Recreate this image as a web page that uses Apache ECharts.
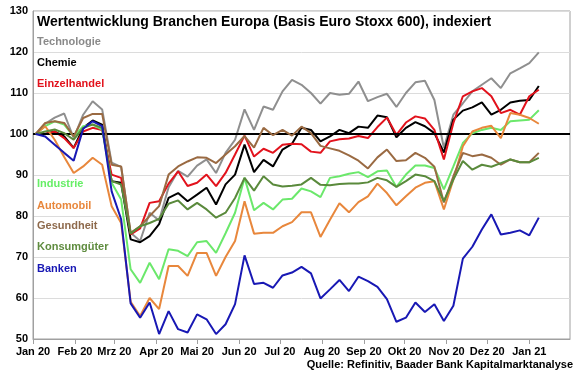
<!DOCTYPE html>
<html>
<head>
<meta charset="utf-8">
<script src="https://cdn.jsdelivr.net/npm/echarts@6/dist/echarts.min.js"></script>
<style>html,body{margin:0;padding:0;background:#fff}#c{width:580px;height:374px}</style>
</head>
<body>
<div id="c"></div>
<script>
// weekly dates (Fridays)
const dates = ['2020-01-03','2020-01-10','2020-01-17','2020-01-24','2020-01-31','2020-02-07','2020-02-14','2020-02-21','2020-02-28',
'2020-03-06','2020-03-13','2020-03-20','2020-03-27','2020-04-03','2020-04-10','2020-04-17','2020-04-24','2020-05-01','2020-05-08',
'2020-05-15','2020-05-22','2020-05-29','2020-06-05','2020-06-12','2020-06-19','2020-06-26','2020-07-03','2020-07-10','2020-07-17',
'2020-07-24','2020-07-31','2020-08-07','2020-08-14','2020-08-21','2020-08-28','2020-09-04','2020-09-11','2020-09-18','2020-09-25',
'2020-10-02','2020-10-09','2020-10-16','2020-10-23','2020-10-30','2020-11-06','2020-11-13','2020-11-20','2020-11-27','2020-12-04',
'2020-12-11','2020-12-18','2020-12-25','2021-01-01','2021-01-08'];

const technologie = [100,102.5,104,105,99,104.7,108,106,93,92,75.9,73.9,80.8,78.9,
 87,91,89.6,92.3,93.8,90.5,95.4,98.6,106,101,106.7,105.9,110.4,113.2,
 112,110,107.4,110,109.6,109.8,112.8,108,109,109.8,106.6,110,112.6,113,108.3,
 96.6,104.7,107.5,110.4,112,113.6,111.2,114.8,116,117.3,119.9];
const chemie = [100,100,100.6,99.4,96.6,101.5,103.3,102.3,88.5,88.1,74.3,73.6,75.1,78,
 84.4,85.6,83.6,85.2,86.9,82.8,87.7,90.1,97.4,90.7,93.7,92.1,96.2,97.6,
 101.5,101,98.2,99.4,101,100.2,101.8,101.5,104.5,104.1,99.2,101.5,102.9,101.9,100.2,
 95.5,103.5,105.7,106.5,107.7,104.7,105.9,107.7,108.1,108.3,111.7];
const einzelhandel = [100,100,100.6,99,96.6,100.6,101.5,101,90.1,89.3,75.5,77,83.2,83.6,
 87.9,90.9,87.3,88.1,90.1,87.3,90.5,95,99.6,94.5,96.4,95.4,97.4,97.6,
 97.5,95.7,95.4,98.2,98.7,98.9,99.5,99,101.7,104,99.8,102.8,104.3,103.8,101,
 93.8,102.7,109.2,110.4,111.2,109.2,105.1,105.9,104.7,109.2,110.8];
const industrie = [100,101.9,103.1,102.3,99.4,101.9,102.3,101.1,88.1,84,67,63.7,68.6,64.6,
 71.9,71.5,70.2,73.6,73.9,71,75.8,80.8,89.3,81.4,83.2,81.6,84,84.2,
 86.7,86,84.6,89.3,89.7,90.3,90.7,89.5,90.9,91.1,87.1,90.1,92.3,92.3,91.7,
 86.5,92.1,97.8,100.2,101,101.5,101,103.1,103.3,103.5,105.8];
const automobil = [100,101.9,98.6,94.4,90.5,92.1,94.2,92.5,82.4,78.3,59.1,55.6,60,57.3,
 67.8,67.8,65.4,71,71,65.4,70,73.9,83.6,75.7,75.9,75.9,77.5,78.5,
 80.9,80.9,74.9,79.1,83.1,80.9,83.4,84.8,87.9,85.6,82.6,84.8,86.9,88.1,88.5,
 81.6,88.9,97,100.6,101.5,102,99,105.1,104.7,103.9,102.5];
const gesundheit = [100,102.7,103.1,102.7,99.4,103.9,104.9,104.9,92.5,92.1,75.9,77.5,80,82.4,
 90.1,92.1,93.3,94.3,94.2,92.9,95,97,99.5,96.7,101.5,99.7,101,99.6,
 101.8,100.2,97.1,96.5,95.9,94.8,93.5,91.6,94.3,96.2,93.4,93.6,95.4,94.2,92,
 83.3,89.7,95.4,94.6,95,94.2,92.5,93.8,93.1,93.1,95.4];
const konsumgueter = [100,100.6,101.1,100.2,98.6,101.5,102.3,101.5,88.5,87.7,75.7,77.5,78.3,79.3,
 83,83.8,81.6,83.2,81.6,79.6,80.8,84.4,89.3,86.2,89.7,87.7,87.2,87.4,
 87.7,89.3,87.6,87.5,87.8,87.9,87.9,88.2,89.3,88.7,87.1,88.5,90.1,89.7,88.5,
 83.6,88.9,93.4,91.3,92.5,92,92.9,93.8,93.1,93.1,94.2];
const banken = [100,99.4,97.4,95.4,93.5,101.3,103.1,101.9,86,79.2,58.7,55.2,58.9,51.2,
 56.8,52.4,51.6,56,54.8,51.2,53.6,58.5,70.4,63.4,63.7,62.5,65.5,66.2,
 67.6,66,59.9,62.1,64.4,61.7,65.2,64.1,62.7,59.7,54.2,55.2,58.9,56.6,58.5,
 54.4,58.1,69.6,72.5,76.7,80.4,75.5,75.9,76.5,75.3,79.6];

const tickDates = ['2020-01-01','2020-02-01','2020-03-01','2020-04-01','2020-05-01','2020-06-01','2020-07-01',
 '2020-08-01','2020-09-01','2020-10-01','2020-11-01','2020-12-01','2021-01-01'];
const tickLabels = ['Jan 20','Feb 20','Mrz 20','Apr 20','Mai 20','Jun 20','Jul 20','Aug 20','Sep 20','Okt 20','Nov 20','Dez 20','Jan 21'];
const yTicks = [50,60,70,80,90,100,110,120,130];
const xRange = ['2020-01-01','2021-01-31'];

const seriesDefs = [
 {name:'Technologie', data:technologie, color:'#8f8f8f', text:'#8a8a8a'},
 {name:'Chemie', data:chemie, color:'#000000', text:'#000000'},
 {name:'Einzelhandel', data:einzelhandel, color:'#e2121c', text:'#e2121c'},
 {name:'Industrie', data:industrie, color:'#6be86b', text:'#66ee66'},
 {name:'Automobil', data:automobil, color:'#e8873c', text:'#e8873c'},
 {name:'Gesundheit', data:gesundheit, color:'#9a6a42', text:'#8e6a4c'},
 {name:'Konsumgüter', data:konsumgueter, color:'#5a8a3c', text:'#5f8c3f'},
 {name:'Banken', data:banken, color:'#1818b4', text:'#1818b4'}
];
const labelY = [43, 64, 85, 185, 207, 227, 248, 270];

// dates -> day number (UTC based)
const DAY = 86400000;
const dayNum = s => Date.UTC(+s.slice(0,4), +s.slice(5,7) - 1, +s.slice(8,10)) / DAY;
const tickDays = tickDates.map(dayNum);
const FONT = 'Liberation Sans, Arial, sans-serif';

const chart = echarts.init(document.getElementById('c'), null, {renderer:'canvas'});
const series = seriesDefs.map((s, k) => ({
  name: s.name, type: 'line', showSymbol: false, symbol: 'none', animation: false,
  lineStyle: {color: s.color, width: 2}, itemStyle: {color: s.color},
  data: s.data.map((v, i) => [dayNum(dates[i]), v]),
  z: 2 + k
}));
series.push({
  type: 'line', data: [], silent: true, z: 20,
  markLine: {symbol: 'none', silent: true, animation: false, label: {show: false},
    lineStyle: {color: '#000', width: 2, type: 'solid'}, data: [{yAxis: 100}]}
});

const graphics = seriesDefs.map((s, k) => ({
  type: 'text', left: 37, top: labelY[k] - 7, z: 100,
  style: {text: s.name, fill: s.text, font: 'bold 11px ' + FONT}
}));
graphics.push({type:'text', left: 37, top: 15, z: 100,
  style:{text:'Wertentwicklung Branchen Europa (Basis Euro Stoxx 600), indexiert', fill:'#000', font:'bold 14px ' + FONT}});
graphics.push({type:'text', right: 7, top: 359, z: 100,
  style:{text:'Quelle: Refinitiv, Baader Bank Kapitalmarktanalyse', fill:'#000', font:'bold 11px ' + FONT}});

chart.setOption({
  animation: false,
  backgroundColor: '#fff',
  grid: {left: 33, right: 10, top: 11, bottom: 35, show: true, borderColor: '#a0a0a0', borderWidth: 1},
  xAxis: {
    type: 'value', min: dayNum(xRange[0]), max: dayNum(xRange[1]),
    axisLine: {show: true, onZero: false, lineStyle: {color: '#a0a0a0'}},
    axisTick: {show: true, customValues: tickDays, length: 5, lineStyle: {color: '#a0a0a0'}},
    splitLine: {show: false},
    axisLabel: {customValues: tickDays, color: '#000', fontWeight: 'bold', fontSize: 11, fontFamily: FONT, margin: 7,
      formatter: v => { const i = tickDays.indexOf(Math.round(+v)); return i >= 0 ? tickLabels[i] : ''; }}
  },
  yAxis: {
    type: 'value', min: yTicks[0], max: yTicks[yTicks.length-1], interval: 10,
    axisLine: {show: true, lineStyle: {color: '#a0a0a0'}},
    axisTick: {show: false},
    splitLine: {show: true, lineStyle: {color: '#dcdcdc', width: 1}},
    axisLabel: {color: '#000', fontWeight: 'bold', fontSize: 11, fontFamily: FONT, margin: 5}
  },
  graphic: graphics,
  series: series
});
</script>
</body>
</html>
